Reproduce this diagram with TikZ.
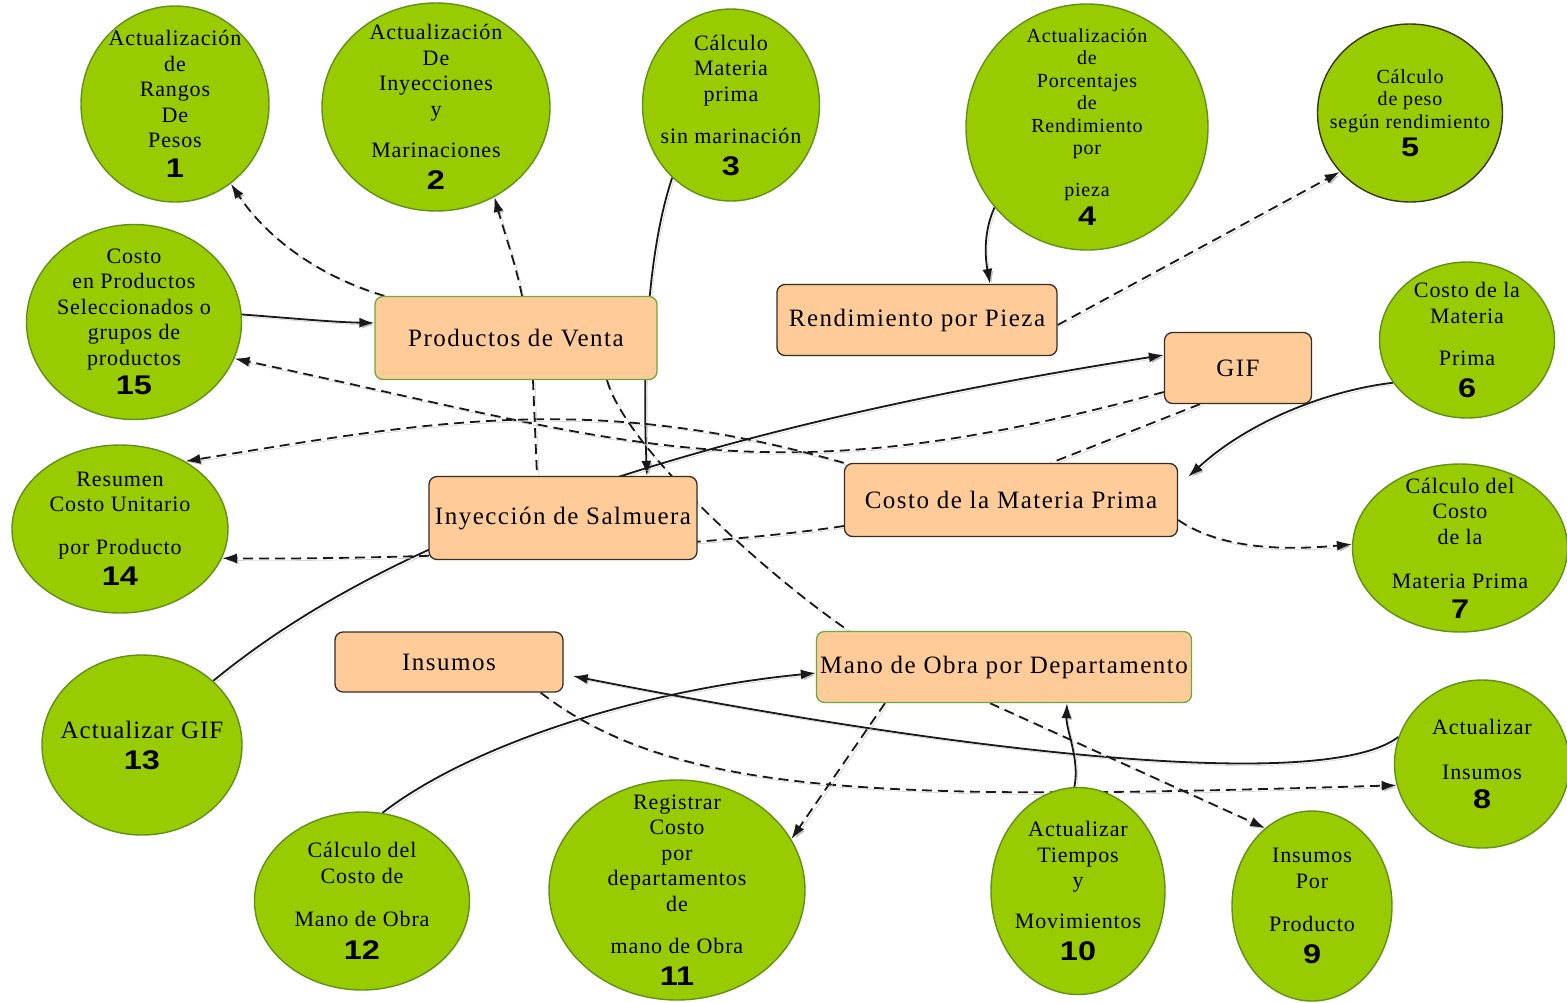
\documentclass[tikz,border=0pt]{standalone}
\usepackage{fontspec}
\setmainfont{Liberation Serif}
\newfontfamily\circfont{Liberation Serif}[LetterSpace=4]
\newfontfamily\boxfont{Liberation Serif}[LetterSpace=6]
\newfontfamily\numfont{Liberation Sans}[FakeStretch=1.2]
\usetikzlibrary{arrows.meta,shapes.geometric}
\pgfdeclarelayer{paper}
\pgfdeclarelayer{links}
\pgfsetlayers{paper,links,main}

\definecolor{leaf}{RGB}{153,204,0}
\definecolor{leafedge}{RGB}{95,145,25}
\definecolor{darkedge}{RGB}{55,55,25}
\definecolor{peach}{RGB}{255,204,153}
\definecolor{boxedge}{RGB}{55,45,35}
\definecolor{boxgreen}{RGB}{105,170,60}

\newcommand{\stepno}[1]{{\numfont\bfseries\fontsize{27}{27}\selectfont #1}}

\begin{document}
\begin{tikzpicture}[x=1pt,y=-1pt,
  proc/.style={ellipse, fill=leaf, draw=leafedge, line width=1.4pt, inner sep=0pt},
  lbl/.style={align=center, inner sep=0pt, font=\circfont\fontsize{22}{25.5}\selectfont},
  smalllbl/.style={align=center, inner sep=0pt, font=\circfont\fontsize{20}{22.5}\selectfont},
  store/.style={rectangle, rounded corners=8pt, fill=peach, draw=boxedge, line width=1.3pt,
    inner sep=0pt, font=\boxfont\fontsize{25}{28}\selectfont},
  link/.style={line width=1.8pt, draw=black!90,
    preaction={draw=black!25, transform canvas={shift={(2pt,-2pt)}}}},
  arr/.style={link, -{Latex[length=15pt,width=10pt]}},
  darr/.style={arr, dash pattern=on 10pt off 6pt},
  dlink/.style={link, dash pattern=on 10pt off 6pt}]

\begin{pgfonlayer}{paper}
  \fill[white] (0,0) rectangle (1567,1002);
\end{pgfonlayer}
\useasboundingbox (0,0) rectangle (1567,1002);

% ---- process bubbles ----
\node[proc, minimum width=188pt, minimum height=196pt] (c1) at (175,104) {};
\node[lbl] (t1) at (c1) {Actualización\\de\\Rangos\\De\\Pesos\\[4pt]\stepno{1}};

\node[proc, minimum width=228pt, minimum height=208pt] (c2) at (436,107) {};
\node[lbl] (t2) at (c2) {Actualización\\De\\Inyecciones\\y\\[16pt]Marinaciones\\[6pt]\stepno{2}};

\node[proc, minimum width=177pt, minimum height=192pt] (c3) at (731,105) {};
\node[lbl] (t3) at (c3) {Cálculo\\Materia\\prima\\[17pt]sin marinación\\[6pt]\stepno{3}};

\node[proc, minimum width=242pt, minimum height=246pt] (c4) at (1087,127) {};
\node[smalllbl] (t4) at (c4) {Actualización\\de\\Porcentajes\\de\\Rendimiento\\por\\[19pt]pieza\\[6pt]\stepno{4}};

\node[proc, draw=darkedge, minimum width=185pt, minimum height=178pt] (c5) at (1410,113) {};
\node[smalllbl] (t5) at (c5) {Cálculo\\de peso\\según rendimiento\\[4pt]\stepno{5}};

\node[proc, minimum width=175pt, minimum height=156pt] (c6) at (1467,340) {};
\node[lbl] (t6) at (c6) {Costo de la\\Materia\\[17pt]Prima\\[6pt]\stepno{6}};

\node[proc, minimum width=215pt, minimum height=168pt] (c7) at (1460,548) {};
\node[lbl] (t7) at (c7) {Cálculo del\\Costo\\de la\\[19pt]Materia Prima\\[4pt]\stepno{7}};

\node[proc, minimum width=175pt, minimum height=168pt] (c8) at (1482,764) {};
\node[lbl] (t8) at (c8) {Actualizar\\[19pt]Insumos\\[4pt]\stepno{8}};

\node[proc, minimum width=160pt, minimum height=190pt] (c9) at (1312,906) {};
\node[lbl] (t9) at (c9) {Insumos\\Por\\[18pt]Producto\\[6pt]\stepno{9}};

\node[proc, minimum width=174pt, minimum height=207pt] (c10) at (1078,891) {};
\node[lbl] (t10) at (c10) {Actualizar\\Tiempos\\y\\[15pt]Movimientos\\[7pt]\stepno{10}};

\node[proc, minimum width=256pt, minimum height=220pt] (c11) at (677,890) {};
\node[lbl] (t11) at (c11) {Registrar\\Costo\\por\\departamentos\\de\\[17pt]mano de Obra\\[6pt]\stepno{11}};

\node[proc, minimum width=215pt, minimum height=178pt] (c12) at (362,901) {};
\node[lbl] (t12) at (c12) {Cálculo del\\Costo de\\[18pt]Mano de Obra\\[7pt]\stepno{12}};

\node[proc, minimum width=200pt, minimum height=180pt] (c13) at (142,745) {};
\node[lbl, font=\circfont\fontsize{25}{28}\selectfont] (t13) at (c13) {Actualizar GIF\\[3pt]\stepno{13}};

\node[proc, minimum width=216pt, minimum height=168pt] (c14) at (120,529) {};
\node[lbl] (t14) at (c14) {Resumen\\Costo Unitario\\[17pt]por Producto\\[6pt]\stepno{14}};

\node[proc, minimum width=215pt, minimum height=195pt] (c15) at (134,322) {};
\node[lbl] (t15) at (c15) {Costo\\en Productos\\Seleccionados o\\grupos de\\productos\\[4pt]\stepno{15}};

% ---- data stores ----
\node[store, draw=boxgreen, minimum width=282pt, minimum height=83pt] (pv) at (516,338) {Productos de Venta};
\node[store, minimum width=280pt, minimum height=71pt] (rp) at (917,320) {Rendimiento por Pieza};
\node[store, minimum width=147pt, minimum height=71pt] (gif) at (1238,368) {GIF};
\node[store, minimum width=268pt, minimum height=83pt] (is) at (563,518) {Inyección de Salmuera};
\node[store, minimum width=333pt, minimum height=73pt] (cmp) at (1011,500) {Costo de la Materia Prima};
\node[store, minimum width=228pt, minimum height=60pt] (ins) at (449,662) {Insumos};
\node[store, draw=boxgreen, minimum width=375pt, minimum height=71pt] (mo) at (1004,667) {Mano de Obra por Departamento};

% ---- flows ----
\begin{pgfonlayer}{links}
  \draw[darr] ([xshift=10pt]pv.north west) .. controls (318,276) and (267,238) .. (c1.-55);
  \draw[darr] ([xshift=6pt]pv.north) .. controls (516,265) and (505,235) .. (c2.-57);
  \draw[arr] (c3.231) .. controls (645,260) and (643,380) .. ([xshift=84pt]is.north);
  \draw[arr] (c15.4) .. controls (290,318) and (330,322) .. ([yshift=15pt]pv.west);
  \draw[darr] ([yshift=-24pt]gif.west) .. controls (764,500) and (642,446) .. (c15.-20);
  \draw[darr] (cmp.north west) .. controls (595,392) and (437,420) .. (c14.46);
  \draw[arr] (c13.42) .. controls (360,560) and (620,440) .. ([yshift=13pt]gif.west);
  \draw[arr] (c6.210) .. controls (1330,390) and (1250,420) .. ([xshift=10pt,yshift=-14pt]cmp.north east);
  \draw[darr] ([yshift=-20pt]cmp.east) .. controls (1215,545) and (1270,552) .. (c7.178);
  \draw[darr] ([yshift=-5pt]rp.east) -- (c5.220);
  \draw[arr] (c4.221) .. controls (982,235) and (986,262) .. ([xshift=73pt]rp.north);
  \draw[darr] ([yshift=-26pt]cmp.west) .. controls (700,548) and (400,560) .. (c14.-16);
  \draw[dlink] ([xshift=17pt]pv.south) -- ([xshift=-26pt]is.north);
  \draw[dlink] ([xshift=91pt]pv.south) .. controls (625,445) and (760,570) .. ([xshift=33pt]mo.north west);
  \draw[arr] (c12.77) .. controls (470,745) and (640,690) .. ([yshift=-6pt]mo.west);
  \draw[arr] (c8.162) .. controls (1330,790) and (1000,760) .. ([xshift=9pt,yshift=-14pt]ins.east);
  \draw[darr] ([xshift=-23pt]ins.south east) .. controls (680,800) and (900,800) .. (c8.194);
  \draw[darr] ([xshift=-119pt]mo.south) -- (c11.24);
  \draw[darr] ([xshift=-14pt]mo.south) -- (c9.121);
  \draw[arr] (c10.92) .. controls (1080,760) and (1066,730) .. ([xshift=63pt]mo.south);
  \draw[dlink] ([xshift=-38pt]gif.south) -- ([xshift=40pt]cmp.north);
\end{pgfonlayer}
\end{tikzpicture}
\end{document}
